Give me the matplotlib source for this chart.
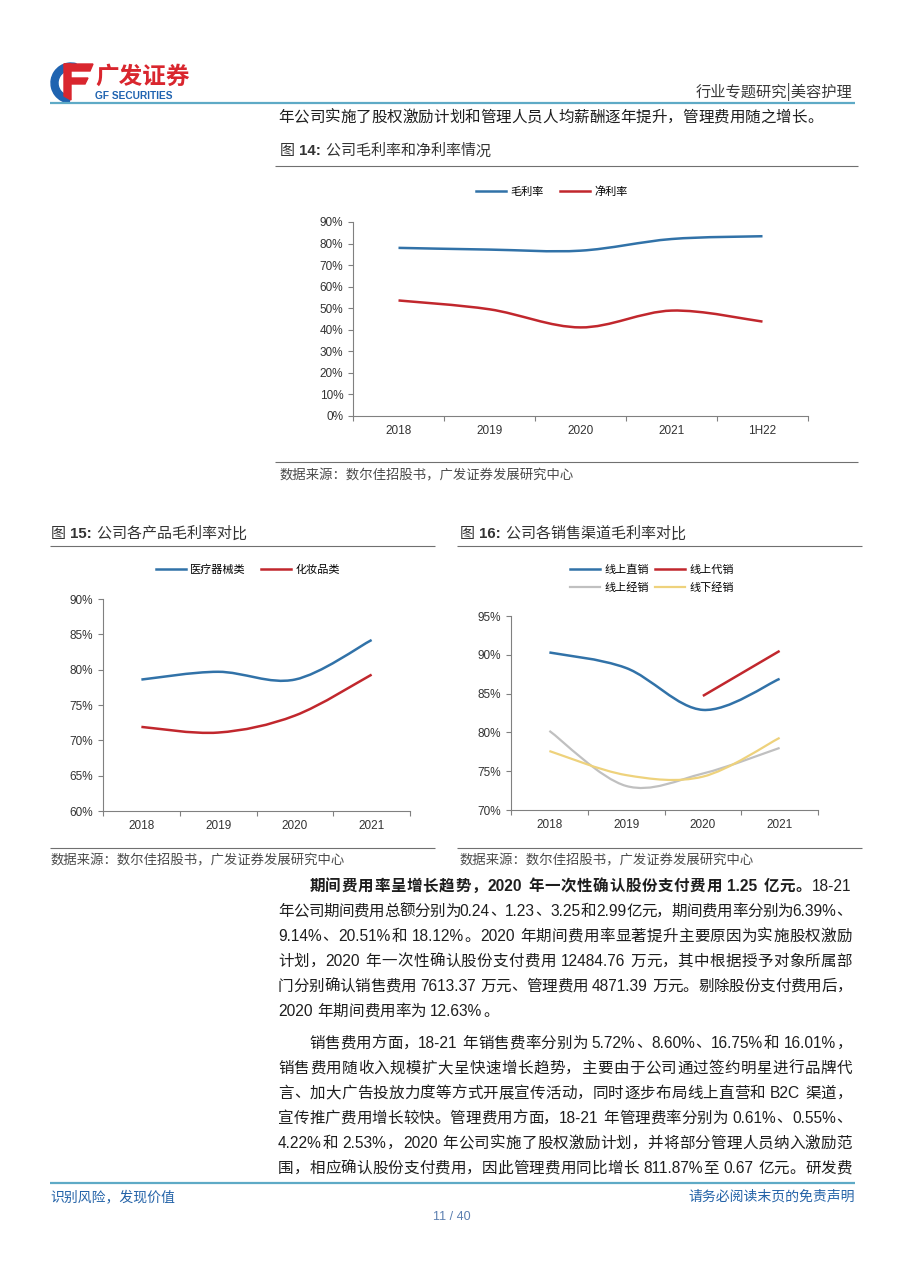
import numpy as np
import matplotlib
matplotlib.use('Agg')
import matplotlib.pyplot as plt
import matplotlib.ticker as mticker
from matplotlib.path import Path
from matplotlib.patches import PathPatch, Wedge, Polygon
from matplotlib.lines import Line2D

plt.rcParams['font.family'] = ['Liberation Sans', 'Noto Sans CJK SC']
CJK = 'Noto Sans CJK SC'
LAT = 'Liberation Sans'

W, H = 905, 1280

# ---------------- data ----------------
years14 = ['2018', '2019', '2020', '2021', '1H22']
gross14 = [78.0, 77.2, 76.7, 82.1, 83.4]
net14 = [53.6, 49.5, 41.1, 48.9, 43.8]

years15 = ['2018', '2019', '2020', '2021']
medical15 = [78.6, 79.7, 78.6, 84.2]
cosmetic15 = [71.9, 71.1, 73.5, 79.3]

years16 = ['2018', '2019', '2020', '2021']
online_direct = [90.3, 88.3, 82.9, 86.9]
online_agent = [None, None, 84.7, 90.5]
online_dealer = [80.2, 73.1, 74.7, 78.0]
offline_dealer = [77.6, 74.5, 74.3, 79.3]

BLUE = '#3172a8'
RED = '#c1272d'
GRAY = '#c0c0c0'
YELLOW = '#eed27c'
AXC = '#808080'
TXT = '#1e1e1e'
TEAL = '#5eaac6'

fig = plt.figure(figsize=(W / 100, H / 100), dpi=100)
page = fig.add_axes([0, 0, 1, 1])
page.set_xlim(0, W)
page.set_ylim(H, 0)
page.axis('off')
renderer = fig.canvas.get_renderer()


def px_axes(x0, y0, x1, y1):
    ax = fig.add_axes([x0 / W, 1 - y1 / H, (x1 - x0) / W, (y1 - y0) / H])
    ax.patch.set_alpha(0)
    return ax


def hline(y, x0, x1, color='#707070', lw=0.8):
    page.plot([x0, x1], [y, y], color=color, lw=lw, solid_capstyle='butt')


def smooth_path(xs, ys):
    # excel-like smoothed line drawn as bezier segments
    pts = np.column_stack([xs, ys]).astype(float)
    n = len(pts)
    verts = [pts[0]]
    codes = [Path.MOVETO]
    for i in range(n - 1):
        p0 = pts[i - 1] if i > 0 else pts[i]
        p1 = pts[i]
        p2 = pts[i + 1]
        p3 = pts[i + 2] if i + 2 < n else pts[i + 1]
        verts += [p1 + (p2 - p0) / 6, p2 - (p3 - p1) / 6, p2]
        codes += [Path.CURVE4] * 3
    return Path(verts, codes)


def add_series(ax, values, color, lw=1.8):
    xs = [i for i, v in enumerate(values) if v is not None]
    ys = [v for v in values if v is not None]
    ax.add_patch(PathPatch(smooth_path(xs, ys), fc='none', ec=color, lw=lw,
                           capstyle='butt', joinstyle='round'))
    return Line2D([], [], color=color, lw=lw)


def style_axes(ax, cats, ylo, yhi, step):
    n = len(cats)
    ax.set_xlim(-0.5, n - 0.5)
    ax.set_ylim(ylo, yhi)
    ax.set_yticks(np.arange(ylo, yhi + 0.01, step))
    ax.yaxis.set_major_formatter(mticker.PercentFormatter(decimals=0))
    ax.set_xticks(np.arange(-0.5, n, 1.0))
    ax.set_xticklabels([])
    ax.set_xticks(range(n), minor=True)
    ax.set_xticklabels(cats, minor=True)
    ax.tick_params(axis='x', which='minor', length=0, pad=6.5, labelsize=8.5,
                   labelcolor='#333333')
    ax.tick_params(axis='x', which='major', length=3.5, width=0.8, color=AXC)
    ax.tick_params(axis='y', length=3.5, width=0.8, color=AXC, pad=3.5,
                   labelsize=8.5, labelcolor='#333333')
    for s in ['top', 'right']:
        ax.spines[s].set_visible(False)
    for s in ['left', 'bottom']:
        ax.spines[s].set_color(AXC)
        ax.spines[s].set_linewidth(0.8)


def tokens_of(segments):
    toks = []
    for s, bold in segments:
        run = ''
        for ch in s:
            if ch == ' ':
                if run:
                    toks.append((run, bold, 'lat'))
                    run = ''
                toks.append((' ', bold, 'sp'))
            elif ord(ch) < 128:
                run += ch
            else:
                if run:
                    toks.append((run, bold, 'lat'))
                    run = ''
                toks.append((ch, bold, 'cjk'))
        if run:
            toks.append((run, bold, 'lat'))
    return toks


def draw_line(segments, x0, yc, x1=None, size=11.2, color=TXT):
    em = size * 100 / 72
    toks = tokens_of(segments)
    objs = []
    for t, bold, kind in toks:
        w = 'bold' if bold else 'normal'
        if kind == 'sp':
            objs.append((None, 0.27 * em, kind))
            continue
        fam = CJK if kind == 'cjk' else LAT
        o = page.text(0, yc + 0.36 * em, t, fontsize=size, family=fam, weight=w,
                      color=color, va='baseline', ha='left')
        if kind == 'cjk':
            wd = em
        else:
            wd = o.get_window_extent(renderer).width + 0.5
        objs.append((o, wd, kind))
    natural = sum(o[1] for o in objs)
    gap = 0.0
    if x1 is not None and len(objs) > 1:
        gap = (x1 - x0 - natural) / (len(objs) - 1)
    x = x0
    for o, wd, kind in objs:
        if o is not None:
            if kind == 'cjk' and o.get_text() not in '，、。：；':
                o.set_x(x + wd / 2)
                o.set_ha('center')
            else:
                o.set_x(x)
        x += wd + gap


# ---------------- page header ----------------
page.add_patch(Wedge((71, 83), 20, 95, 285, width=7, color='#1f63b0'))
page.add_patch(Polygon([[64, 64], [93, 64], [90, 71], [66, 71]], color='#d9262e'))
page.add_patch(Polygon([[64, 64], [71, 64], [71, 100], [64, 96]], color='#d9262e'))
page.add_patch(Polygon([[71, 78], [88, 78], [85, 84], [71, 84]], color='#d9262e'))
page.text(95, 77, '广发证券', fontsize=17, family=CJK, weight='bold', color='#d9262e',
          va='center', ha='left')
page.text(95, 96, 'GF SECURITIES', fontsize=7.3, family=LAT, weight='bold',
          color='#1f63b0', va='center', ha='left')
page.text(852, 92, '行业专题研究|美容护理', fontsize=11, family=CJK, color='#3a3a3a',
          va='center', ha='right')
hline(103, 50, 855, color=TEAL, lw=1.6)

draw_line([('年公司实施了股权激励计划和管理人员人均薪酬逐年提升，管理费用随之增长。', False)],
          278, 116, None, size=11.2)

# ---------------- figure 14 ----------------
draw_line([('图 ', False), ('14:', True), (' 公司毛利率和净利率情况', False)], 280, 150,
          None, size=10.8, color='#333333')
hline(166, 275, 858)
ax14 = px_axes(353, 222, 808, 416)
style_axes(ax14, years14, 0, 90, 10)
h1 = add_series(ax14, gross14, BLUE)
h2 = add_series(ax14, net14, RED)
ax14.legend([h1, h2], ['毛利率', '净利率'], loc='center', ncol=2, frameon=False,
            bbox_to_anchor=(552 / W, 1 - 192 / H), bbox_transform=fig.transFigure,
            prop={'family': CJK, 'size': 8}, handlelength=2.7, handletextpad=0.4,
            columnspacing=1.4)
hline(462, 275, 858)
page.text(280, 475, '数据来源：数尔佳招股书，广发证券发展研究中心', fontsize=9.6,
          family=CJK, color='#4a4a4a', va='center', ha='left')

# ---------------- figure 15 ----------------
draw_line([('图 ', False), ('15:', True), (' 公司各产品毛利率对比', False)], 51, 533,
          None, size=10.8, color='#333333')
hline(546, 50, 435)
ax15 = px_axes(103, 599, 410, 811)
style_axes(ax15, years15, 60, 90, 5)
h1 = add_series(ax15, medical15, BLUE)
h2 = add_series(ax15, cosmetic15, RED)
ax15.legend([h1, h2], ['医疗器械类', '化妆品类'], loc='center', ncol=2, frameon=False,
            bbox_to_anchor=(248 / W, 1 - 570 / H), bbox_transform=fig.transFigure,
            prop={'family': CJK, 'size': 8}, handlelength=2.7, handletextpad=0.4,
            columnspacing=1.4)
hline(848, 50, 435)
page.text(51, 860, '数据来源：数尔佳招股书，广发证券发展研究中心', fontsize=9.6,
          family=CJK, color='#4a4a4a', va='center', ha='left')

# ---------------- figure 16 ----------------
draw_line([('图 ', False), ('16:', True), (' 公司各销售渠道毛利率对比', False)], 460, 533,
          None, size=10.8, color='#333333')
hline(546, 457, 862)
ax16 = px_axes(511, 616, 818, 810)
style_axes(ax16, years16, 70, 95, 5)
h1 = add_series(ax16, online_direct, BLUE)
h2 = add_series(ax16, online_agent, RED)
h3 = add_series(ax16, online_dealer, GRAY, lw=1.6)
h4 = add_series(ax16, offline_dealer, YELLOW, lw=1.6)
ax16.legend([h1, h3, h2, h4], ['线上直销', '线上经销', '线上代销', '线下经销'], loc='center',
            ncol=2, frameon=False,
            bbox_to_anchor=(652 / W, 1 - 579 / H), bbox_transform=fig.transFigure,
            prop={'family': CJK, 'size': 8}, handlelength=2.7, handletextpad=0.4,
            columnspacing=0.5, labelspacing=0.7)
hline(848, 457, 862)
page.text(460, 860, '数据来源：数尔佳招股书，广发证券发展研究中心', fontsize=9.6,
          family=CJK, color='#4a4a4a', va='center', ha='left')

# ---------------- body text ----------------
L, R = 278, 852
ind = L + 2 * 11.2 * 100 / 72
draw_line([('期间费用率呈增长趋势，2020 年一次性确认股份支付费用 1.25 亿元。', True),
           ('18-21', False)], ind, 885, R)
draw_line([('年公司期间费用总额分别为0.24、1.23、3.25和2.99亿元，期间费用率分别为6.39%、', False)],
          L, 910, R)
draw_line([('9.14%、20.51%和 18.12%。2020 年期间费用率显著提升主要原因为实施股权激励', False)],
          L, 935, R)
draw_line([('计划，2020 年一次性确认股份支付费用 12484.76 万元，其中根据授予对象所属部', False)],
          L, 960, R)
draw_line([('门分别确认销售费用 7613.37 万元、管理费用 4871.39 万元。剔除股份支付费用后，', False)],
          L, 985, R)
draw_line([('2020 年期间费用率为 12.63%。', False)], L, 1010, None)

draw_line([('销售费用方面，18-21 年销售费率分别为 5.72%、8.60%、16.75%和 16.01%，', False)],
          ind, 1042, R)
draw_line([('销售费用随收入规模扩大呈快速增长趋势，主要由于公司通过签约明星进行品牌代', False)],
          L, 1067, R)
draw_line([('言、加大广告投放力度等方式开展宣传活动，同时逐步布局线上直营和 B2C 渠道，', False)],
          L, 1092, R)
draw_line([('宣传推广费用增长较快。管理费用方面，18-21 年管理费率分别为 0.61%、0.55%、', False)],
          L, 1117, R)
draw_line([('4.22%和 2.53%，2020 年公司实施了股权激励计划，并将部分管理人员纳入激励范', False)],
          L, 1142, R)
draw_line([('围，相应确认股份支付费用，因此管理费用同比增长 811.87%至 0.67 亿元。研发费', False)],
          L, 1167, R)

# ---------------- footer ----------------
hline(1183, 50, 855, color=TEAL, lw=1.6)
page.text(50, 1197, '识别风险，发现价值', fontsize=10, family=CJK, color='#2463a8',
          va='center', ha='left')
page.text(855, 1197, '请务必阅读末页的免责声明', fontsize=10, family=CJK, color='#2463a8',
          va='center', ha='right')
page.text(452, 1217, '11 / 40', fontsize=9, family=LAT, color='#5b7fb0',
          va='center', ha='center')

fig.savefig('out.png', dpi=100, facecolor='white')
